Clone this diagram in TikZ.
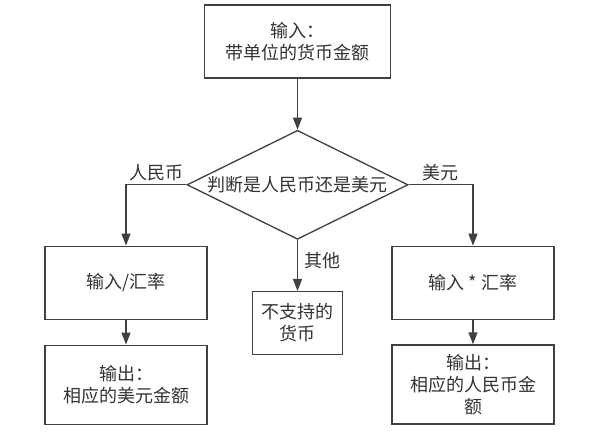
\documentclass[tikz,border=0pt]{standalone}
\usepackage{fontspec}
\setmainfont{Noto Sans CJK SC}
\usetikzlibrary{positioning,shapes.geometric,arrows.meta}
\definecolor{linegray}{HTML}{404040}
\definecolor{textgray}{HTML}{333333}

\begin{document}
\begin{tikzpicture}[
    x=1pt,
    y=-1pt,
    line width=1.3pt,
    box/.style={
        rectangle,
        draw=linegray,
        fill=white,
        text=textgray,
        minimum width=162pt,
        minimum height=73pt,
        align=center,
        font=\fontsize{18}{22}\selectfont
    },
    decision/.style={
        diamond,
        aspect=2.03,
        draw=linegray,
        fill=white,
        text=textgray,
        minimum width=221pt,
        minimum height=109pt,
        inner sep=0pt,
        font=\fontsize{18}{22}\selectfont
    },
    flow/.style={draw=linegray, -{Triangle[length=12pt,width=9pt]}},
    lbl/.style={text=textgray, font=\fontsize{18}{22}\selectfont}
]
    \useasboundingbox[fill=white] (0,0) rectangle (592,442);

    % Nodes
    \node[box, minimum width=186pt] (input) at (297.5,41.5) {输入：\\带单位的货币金额};
    \node[decision] (judge) [below=51pt of input] {判断是人民币还是美元};
    \node[box, minimum width=90pt, minimum height=63pt] (other) [below=51pt of judge] {不支持的\\货币};
    \node[box] (rmb) at (126,282.7) {输入/汇率};
    \node[box, minimum height=79pt] (rmbout) [below=24.7pt of rmb] {输出：\\相应的美元金额};
    \node[box] (usd) at (473,282.8) {输入 * 汇率};
    \node[box, minimum height=79pt] (usdout) [below=24.3pt of usd] {输出：\\相应的人民币金\\额};

    % Connectors
    \draw[flow] (input) -- (judge);
    \draw[flow] (judge.west) -| (rmb) node[lbl, pos=0.25, above] {人民币};
    \draw[flow] (judge.east) -| (usd) node[lbl, pos=0.25, above] {美元};
    \draw[flow] (judge.south) -- (other) node[lbl, pos=0.4, right, xshift=3pt] {其他};
    \draw[flow] (rmb) -- (rmbout);
    \draw[flow] (usd) -- (usdout);
\end{tikzpicture}
\end{document}
